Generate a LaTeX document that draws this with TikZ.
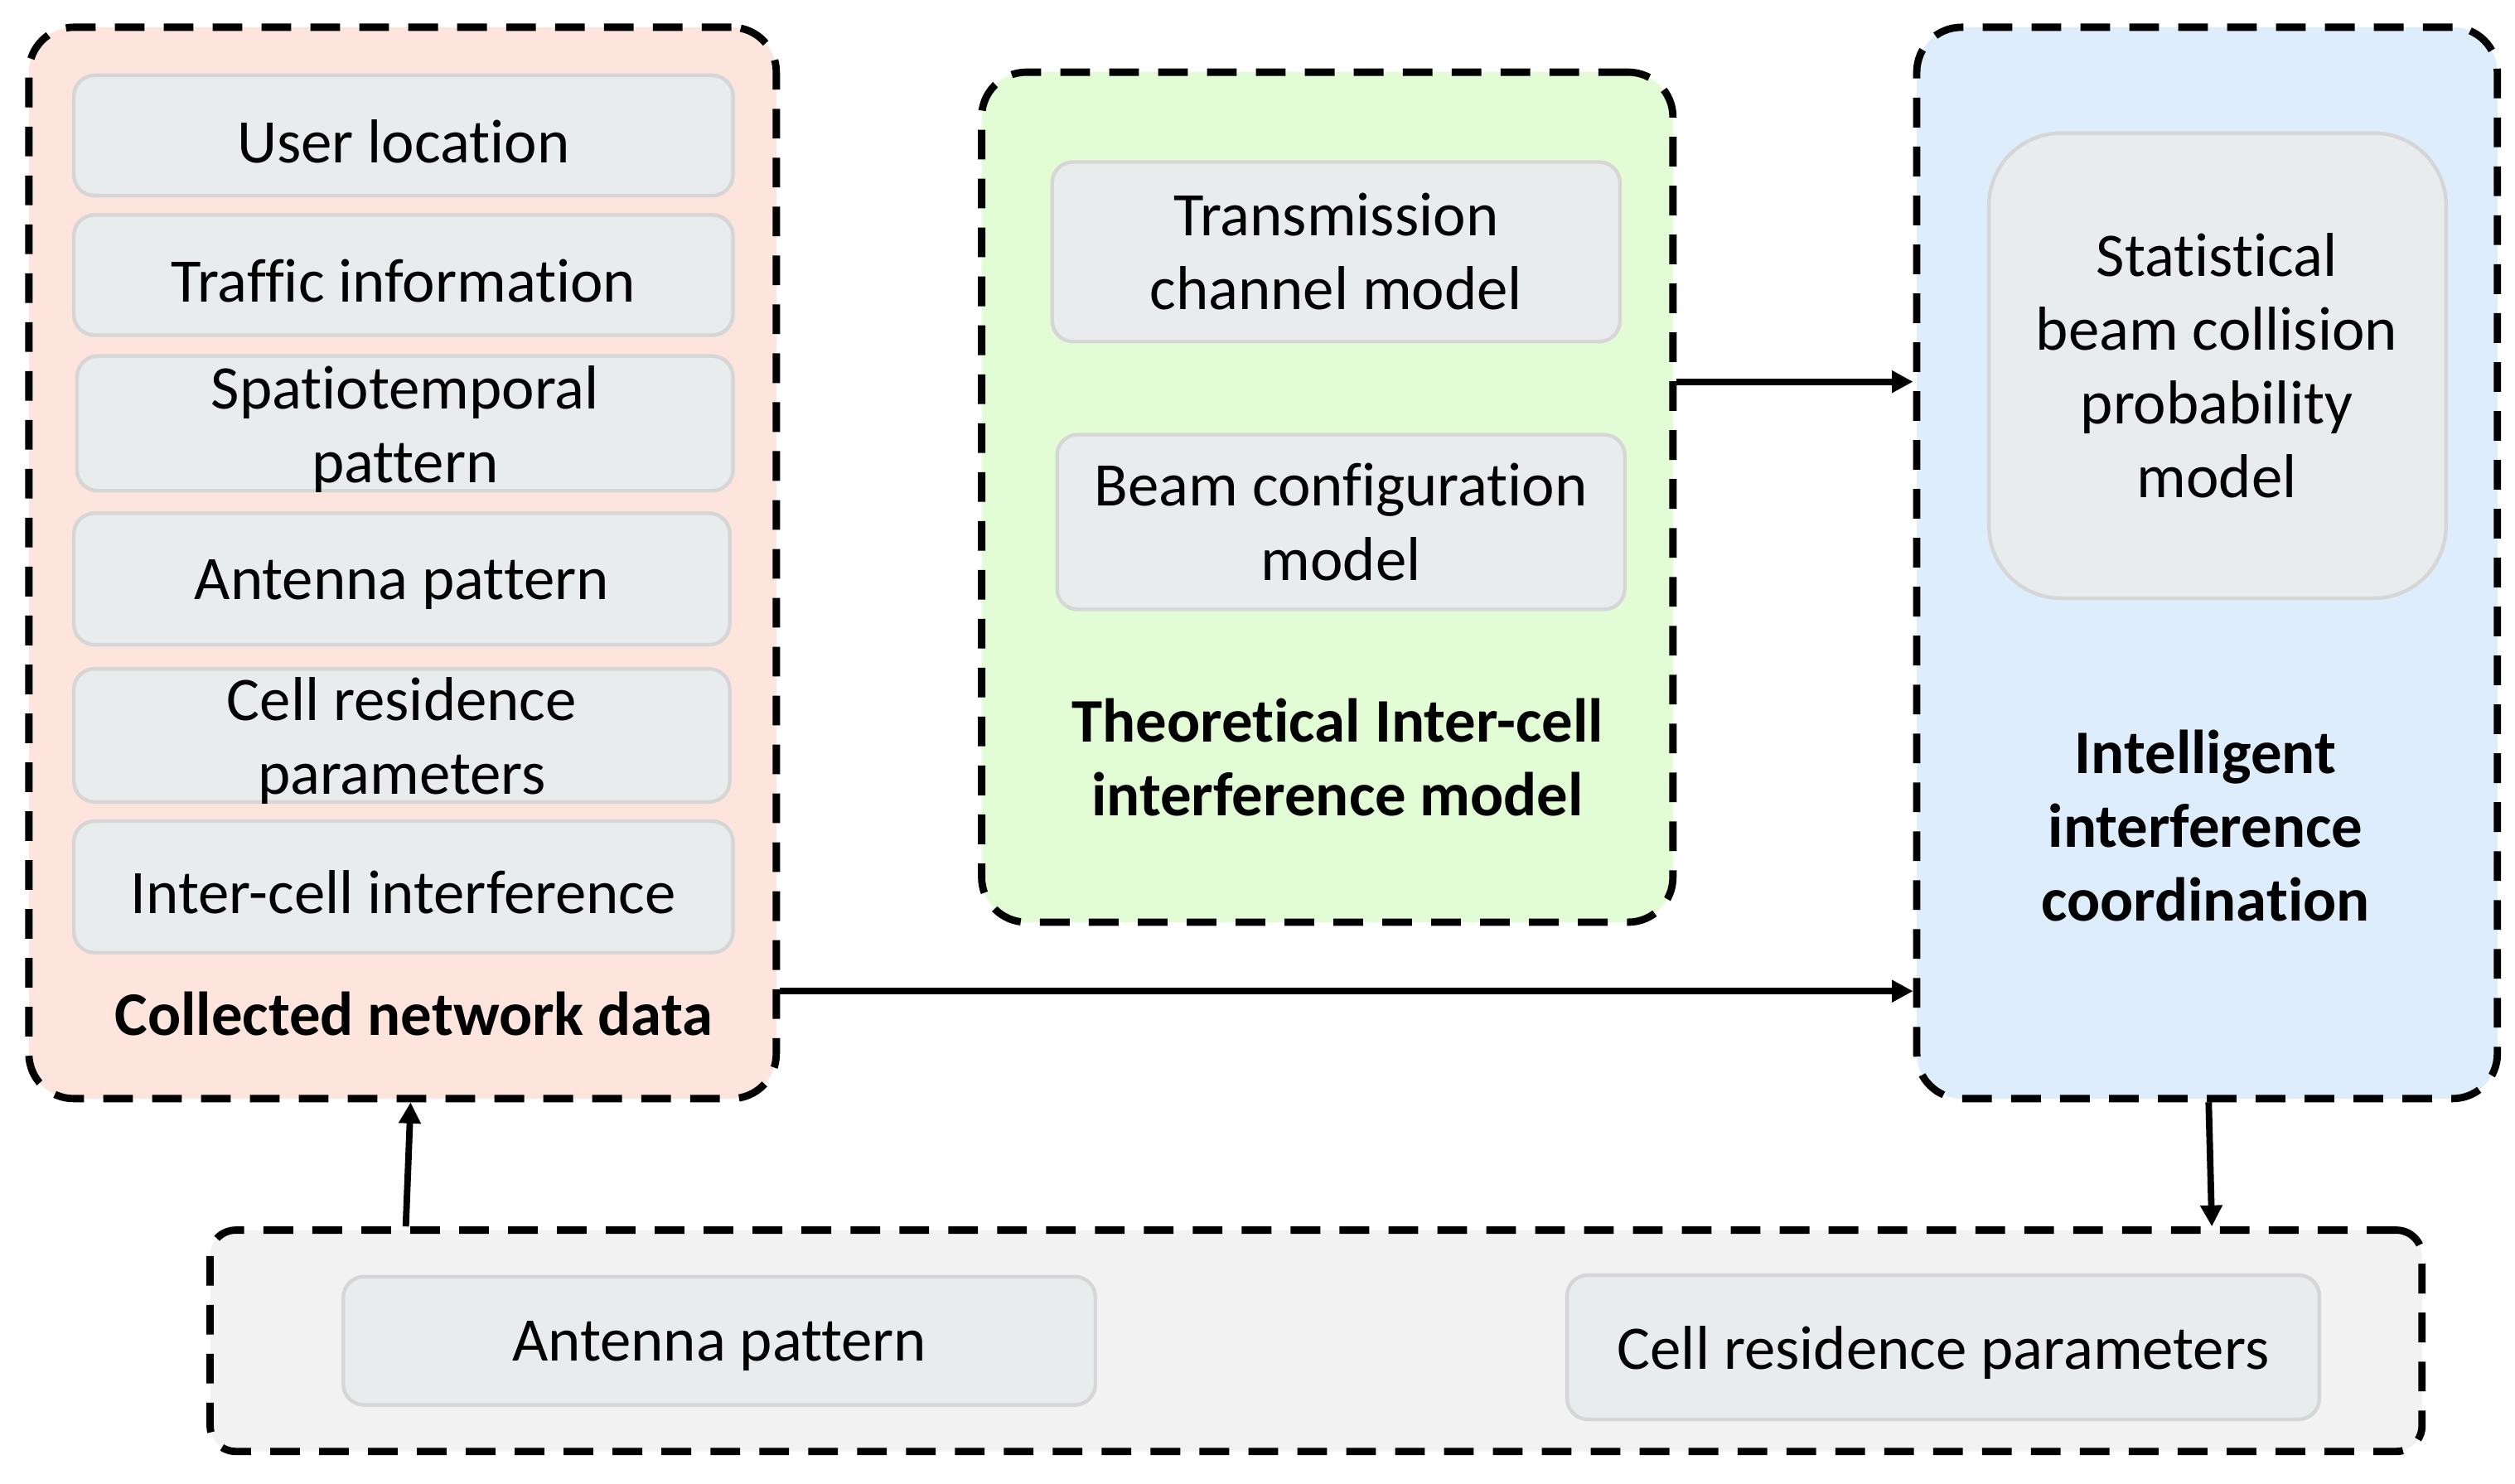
\documentclass[tikz,border=0pt]{standalone}
\usepackage{fontspec}
\setmainfont{Carlito}[Ligatures={NoCommon,NoContextual}]
\usetikzlibrary{arrows.meta,fit,calc}
\definecolor{pinkfill}{HTML}{FDE5DD}
\definecolor{greenfill}{HTML}{E2FCD6}
\definecolor{bluefill}{HTML}{DDEDFC}
\definecolor{grayfill}{HTML}{F2F2F2}
\definecolor{itemfill}{HTML}{E9ECED}
\definecolor{itemline}{HTML}{D6D6D6}
\begin{document}
\begin{tikzpicture}[x=0.02cm,y=-0.02cm,
  group/.style={draw=black, line width=2.6pt, dash pattern=on 0.37cm off 0.24cm, rounded corners=0.56cm, inner sep=0pt},
  item/.style={draw=itemline, fill=itemfill, line width=1.3pt, rounded corners=0.26cm, inner sep=0pt},
  txt/.style={font=\fontsize{22}{26.2}\selectfont, align=center, inner sep=0pt},
  title/.style={font=\fontsize{22}{26.2}\selectfont\bfseries, align=center, inner sep=0pt},
  arr/.style={line width=2.3pt, -{Triangle[length=7.5pt,width=7.5pt]}}]
\useasboundingbox (0,0) rectangle (1568,925);
% groups
\node[group, fill=pinkfill, fit={(18,17) (484,685)}] (pink) {};
\node[group, fill=greenfill, fit={(612,45) (1043,575)}] (green) {};
\node[group, fill=bluefill, fit={(1195,17) (1557,685)}] (blue) {};
\node[group, fill=grayfill, rounded corners=0.32cm, fit={(131,767) (1510,905)}] (bottom) {};
% left items
\node[item, fit={(46,47) (457,122)}] (ul) {};
\node[txt] (ult) at ([yshift=-2pt]ul.center) {User location};
\node[item, fit={(46,134) (457,209)}] (ti) {};
\node[txt] (tit) at ([yshift=-2pt]ti.center) {Traffic information};
\node[item, fit={(48,222) (457,306)}] (sp) {};
\node[txt] (spt) at ([yshift=-2pt]sp.center) {Spatiotemporal\\pattern};
\node[item, fit={(46,320) (455,402)}] (ap) {};
\node[txt] (apt) at ([yshift=-2pt]ap.center) {Antenna pattern};
\node[item, fit={(46,417) (455,500)}] (cr) {};
\node[txt] (crt) at ([yshift=-2pt]cr.center) {Cell residence\\parameters};
\node[item, fit={(46,512) (457,594)}] (ic) {};
\node[txt] (ict) at ([yshift=-2pt]ic.center) {Inter-cell interference};
\node[title] (pinktitle) at (258,632) {Collected network data};
% middle items
\node[item, fit={(656,101) (1010,213)}] (tc) {};
\node[txt] (tct) at (tc.center) {Transmission\\channel model};
\node[item, fit={(659,271) (1013,380)}] (bc) {};
\node[txt] (bct) at (bc.center) {Beam configuration\\model};
\node[title] (greentitle) at (834,472) {Theoretical Inter-cell\\interference model};
% right items
\node[item, rounded corners=0.9cm, fit={(1240,83) (1525,373)}] (sb) {};
\node[txt] (sbt) at (1382,228) {Statistical\\beam collision\\probability\\model};
\node[title] (bluetitle) at (1375,515) {Intelligent\\interference\\coordination};
% bottom items
\node[item, fit={(214,796) (683,876)}] (bap) {};
\node[txt] (bapt) at ([yshift=-2pt]bap.center) {Antenna pattern};
\node[item, fit={(977,795) (1446,885)}] (bcr) {};
\node[txt] (bcrt) at ([yshift=-2pt]bcr.center) {Cell residence parameters};
% connectors
\draw[arr] (green.east |- 0,238) -- (blue.west |- 0,238);
\draw[arr] (pink.east |- 0,618) -- (blue.west |- 0,618);
\draw[arr] (bottom.north -| 253,0) -- (pink.south -| 256,0);
\draw[arr] (blue.south -| 1377,0) -- (bottom.north -| 1379,0);
\end{tikzpicture}
\end{document}
